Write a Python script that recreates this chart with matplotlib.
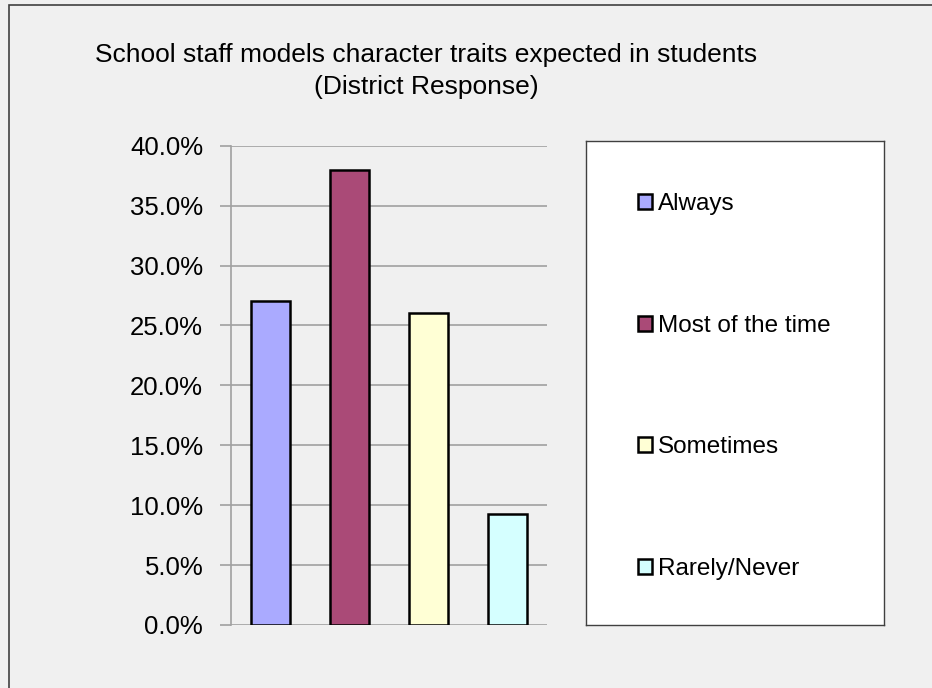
import matplotlib.pyplot as plt
from matplotlib.patches import Rectangle
from matplotlib.ticker import FuncFormatter

plt.rcParams['font.family'] = ['Liberation Sans', 'DejaVu Sans']

# data
categories = ['Always', 'Most of the time', 'Sometimes', 'Rarely/Never']
values = [27.0, 38.0, 26.0, 9.3]
colors = ['#AAAAFF', '#AA4A77', '#FFFFD5', '#D5FFFF']
yticks = [0, 5, 10, 15, 20, 25, 30, 35, 40]

W, H = 932, 688
fig = plt.figure(figsize=(W / 100, H / 100), dpi=100)
fig.patch.set_facecolor('#F0F0F0')

# outer chart border (only left/top visible)
fig.patches.append(Rectangle((9 / W, -0.1), 2, (H - 5) / H + 0.1, transform=fig.transFigure,
                             fill=False, edgecolor='#404040', linewidth=1.2))

# plot area
ax = fig.add_axes([231 / W, 1 - 625 / H, 316 / W, (625 - 145.7) / H])
ax.set_facecolor('#F0F0F0')
bars = ax.bar(range(len(values)), values, width=0.5, color=colors,
              edgecolor='black', linewidth=1.8, zorder=3)
ax.set_xlim(-0.5, len(values) - 0.5)
ax.set_ylim(0, 40)
ax.set_yticks(yticks)
ax.yaxis.set_major_formatter(FuncFormatter(lambda v, p: f'{v:.1f}%'))
ax.set_xticks([])
ax.tick_params(axis='y', direction='out', length=8, width=1.2, color='#A0A0A0',
               labelsize=18.5, pad=12)
ax.grid(axis='y', color='#A0A0A0', linewidth=1.2, zorder=0)
for s in ['top', 'right', 'bottom']:
    ax.spines[s].set_visible(False)
ax.spines['left'].set_color('#A0A0A0')
ax.spines['left'].set_linewidth(1.2)

# title
fig.text(426 / W, 1 - 62.3 / H, 'School staff models character traits expected in students',
         ha='center', va='baseline', fontsize=19)
fig.text(426 / W, 1 - 94.4 / H, '(District Response)',
         ha='center', va='baseline', fontsize=19)

# legend box
lax = fig.add_axes([585.7 / W, 1 - 625 / H, (884.3 - 585.7) / W, (625 - 140.7) / H])
lax.set_facecolor('white')
lax.set_xticks([])
lax.set_yticks([])
for s in lax.spines.values():
    s.set_color('#404040')
    s.set_linewidth(1.0)
lax.legend(bars, categories, loc='upper left', bbox_to_anchor=(0.175, 0.892),
           frameon=False, fontsize=17.5, labelspacing=4.1, handlelength=0.58,
           handleheight=0.58, handletextpad=0.25, borderpad=0, borderaxespad=0)

fig.savefig('out.png', dpi=100, facecolor=fig.get_facecolor())
